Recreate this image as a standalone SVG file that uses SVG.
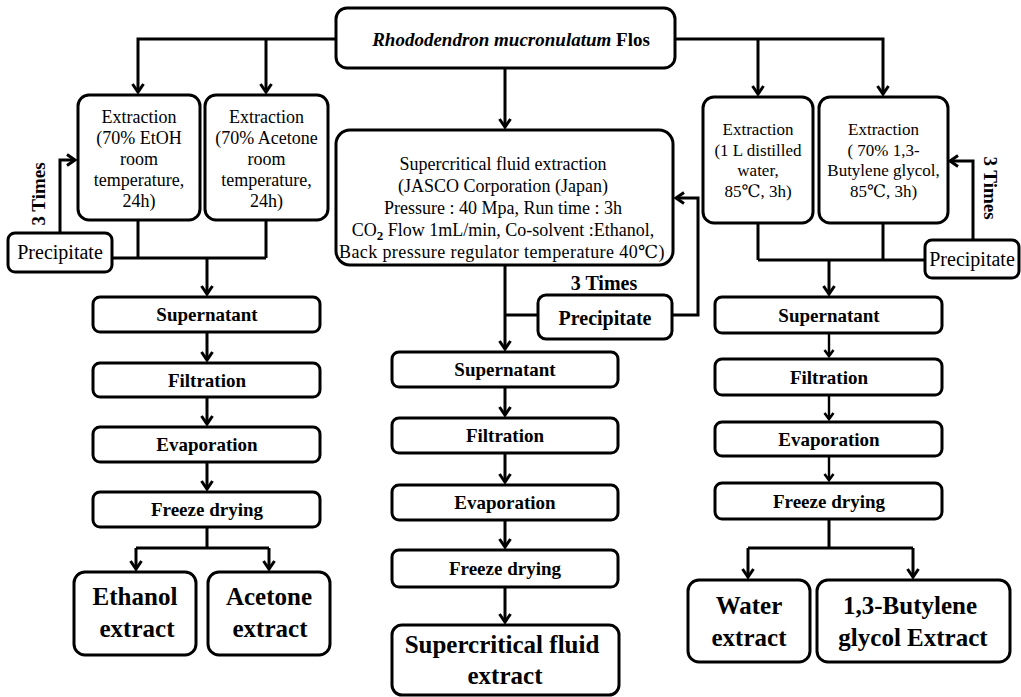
<svg xmlns="http://www.w3.org/2000/svg" width="1021" height="697" viewBox="0 0 1021 697">
<style>
.box{fill:#fff;stroke:#000;stroke-width:3}
.ln{fill:none;stroke:#000;stroke-width:3}
.thin{stroke-width:2.4}
.s{font-family:'Liberation Serif','Times New Roman','DejaVu Serif',serif;fill:#000;text-anchor:middle}
.r18{font-size:18px;font-weight:normal}
.r17{font-size:17px;font-weight:normal}
.r20{font-size:20px;font-weight:normal}
.b19{font-size:19px;font-weight:bold}
.b20{font-size:20px;font-weight:bold}
.b25{font-size:25px;font-weight:bold}
</style>
<defs>
<marker id="ah" markerUnits="userSpaceOnUse" markerWidth="24" markerHeight="24" viewBox="-12 -12 24 24" refX="0" refY="0" orient="auto" overflow="visible">
<path d="M-8,-5.5 L0,0 L-8,5.5" fill="none" stroke="#000" stroke-width="3"/>
</marker>
<marker id="ahs" markerUnits="userSpaceOnUse" markerWidth="24" markerHeight="24" viewBox="-12 -12 24 24" refX="0" refY="0" orient="auto" overflow="visible">
<path d="M-6,-4.5 L0,0 L-6,4.5" fill="none" stroke="#000" stroke-width="2.6"/>
</marker>
</defs>
<rect width="1021" height="697" fill="#fff"/>

<g id="connectors" class="ln">
<path d="M336,39 H138 V92" marker-end="url(#ah)"/>
<path d="M266,39 V92" marker-end="url(#ah)"/>
<path d="M675,39 H883 V94" marker-end="url(#ah)"/>
<path d="M758,39 V94" marker-end="url(#ah)"/>
<path d="M505,68 V127" marker-end="url(#ah)"/>
<path d="M138,220 V258 M266,220 V258 M112,258 H266"/>
<path d="M207,258 V294" marker-end="url(#ah)"/>
<path d="M60,233 V160 H75" marker-end="url(#ah)"/>
<path d="M207,332 V360" marker-end="url(#ah)"/>
<path d="M207,397 V424" marker-end="url(#ah)"/>
<path d="M207,462 V489" marker-end="url(#ah)"/>
<path d="M207,527 V548 M136,548 H269"/>
<path d="M136,548 V569" marker-end="url(#ah)"/>
<path d="M269,548 V569" marker-end="url(#ah)"/>
<path d="M505,265 V349" marker-end="url(#ah)"/>
<path d="M505,315 H538"/>
<path d="M672,315 H698 V198 H676" marker-end="url(#ah)"/>
<path d="M505,387 V415" marker-end="url(#ah)"/>
<path d="M505,453 V482" marker-end="url(#ah)"/>
<path d="M505,520 V547" marker-end="url(#ah)"/>
<path d="M505,587 V622" marker-end="url(#ah)"/>
<path d="M758,223 V260 M883,223 V260 M758,260 H925"/>
<path d="M829,260 V294" marker-end="url(#ah)"/>
<path d="M973,240 V161 H950" marker-end="url(#ah)"/>
<path class="thin" d="M829,333 V356" marker-end="url(#ahs)"/>
<path class="thin" d="M829,395 V419" marker-end="url(#ahs)"/>
<path class="thin" d="M829,456 V480" marker-end="url(#ahs)"/>
<path d="M829,519 V548 M748,548 H913"/>
<path d="M748,548 V577" marker-end="url(#ah)"/>
<path d="M913,548 V577" marker-end="url(#ah)"/>
</g>

<g id="n-source">
<rect class="box" x="336" y="8" width="339" height="60" rx="11"/>
<text class="s b19" x="511" y="46"><tspan font-style="italic">Rhododendron mucronulatum</tspan> Flos</text>
</g>

<g id="n-ext-etoh">
<rect class="box" x="78" y="95" width="122" height="125" rx="11"/>
<text class="s r18" x="139" y="123">Extraction</text>
<text class="s r18" x="139" y="144">(70% EtOH</text>
<text class="s r18" x="139" y="165">room</text>
<text class="s r18" x="139" y="186">temperature,</text>
<text class="s r18" x="139" y="207">24h)</text>
</g>
<g id="n-ext-acetone">
<rect class="box" x="205" y="95" width="123" height="125" rx="11"/>
<text class="s r18" x="266.5" y="123">Extraction</text>
<text class="s r18" x="266.5" y="144">(70% Acetone</text>
<text class="s r18" x="266.5" y="165">room</text>
<text class="s r18" x="266.5" y="186">temperature,</text>
<text class="s r18" x="266.5" y="207">24h)</text>
</g>
<g id="n-prec-left">
<rect class="box" x="8" y="233" width="104" height="39" rx="7"/>
<text class="s r20" x="60" y="259">Precipitate</text>
</g>
<text class="s b19" transform="translate(45,194) rotate(-90)">3 Times</text>

<g id="n-sup-left"><rect class="box" x="93" y="297" width="227" height="35" rx="7"/><text class="s b19" x="207" y="321">Supernatant</text></g>
<g id="n-fil-left"><rect class="box" x="93" y="363" width="227" height="34" rx="7"/><text class="s b19" x="207" y="387">Filtration</text></g>
<g id="n-eva-left"><rect class="box" x="93" y="427" width="227" height="35" rx="7"/><text class="s b19" x="207" y="451">Evaporation</text></g>
<g id="n-frz-left"><rect class="box" x="93" y="492" width="227" height="35" rx="7"/><text class="s b19" x="207" y="516">Freeze drying</text></g>

<g id="n-ethanol-extract">
<rect class="box" x="74" y="572" width="122" height="83" rx="11"/>
<text class="s b25" x="135" y="605">Ethanol</text>
<text class="s b25" x="137" y="637">extract</text>
</g>
<g id="n-acetone-extract">
<rect class="box" x="208" y="572" width="122" height="83" rx="11"/>
<text class="s b25" x="269" y="605">Acetone</text>
<text class="s b25" x="270" y="637">extract</text>
</g>

<g id="n-sfe">
<rect class="box" x="336" y="130" width="337" height="135" rx="14"/>
<text class="s r18" x="503" y="170">Supercritical fluid extraction</text>
<text class="s r18" x="503" y="192">(JASCO Corporation (Japan)</text>
<text class="s r18" x="503" y="214">Pressure : 40 Mpa, Run time : 3h</text>
<text class="s r18" x="503" y="236">CO<tspan dy="4" font-size="13" font-weight="bold">2</tspan><tspan dy="-4"> Flow 1mL/min, Co-solvent :Ethanol,</tspan></text>
<text class="s r18" x="502" y="258" letter-spacing="0.4">Back pressure regulator temperature 40℃)</text>
</g>
<g id="n-prec-center">
<rect class="box" x="538" y="295" width="134" height="44" rx="8"/>
<text class="s b20" x="605" y="325">Precipitate</text>
</g>
<text class="s b20" x="604" y="290">3 Times</text>

<g id="n-sup-center"><rect class="box" x="392" y="352" width="226" height="35" rx="7"/><text class="s b19" x="505" y="376">Supernatant</text></g>
<g id="n-fil-center"><rect class="box" x="392" y="418" width="226" height="35" rx="7"/><text class="s b19" x="505" y="442">Filtration</text></g>
<g id="n-eva-center"><rect class="box" x="392" y="485" width="226" height="35" rx="7"/><text class="s b19" x="505" y="509">Evaporation</text></g>
<g id="n-frz-center"><rect class="box" x="392" y="550" width="226" height="37" rx="7"/><text class="s b19" x="505" y="575">Freeze drying</text></g>
<g id="n-sfe-extract">
<rect class="box" x="392" y="625" width="227" height="70" rx="10"/>
<text class="s b25" x="502" y="653">Supercritical fluid</text>
<text class="s b25" x="505" y="684">extract</text>
</g>

<g id="n-ext-water">
<rect class="box" x="703" y="97" width="110" height="126" rx="11"/>
<text class="s r17" x="758" y="135">Extraction</text>
<text class="s r17" x="758" y="155.5">(1 L distilled</text>
<text class="s r17" x="758" y="176">water,</text>
<text class="s r17" x="758" y="196.5">85℃, 3h)</text>
</g>
<g id="n-ext-bg">
<rect class="box" x="819" y="97" width="129" height="126" rx="11"/>
<text class="s r17" x="883.5" y="135">Extraction</text>
<text class="s r17" x="883.5" y="155.5">( 70% 1,3-</text>
<text class="s r17" x="883.5" y="176">Butylene glycol,</text>
<text class="s r17" x="883.5" y="196.5">85℃, 3h)</text>
</g>
<g id="n-prec-right">
<rect class="box" x="925" y="240" width="94" height="38" rx="7"/>
<text class="s r20" x="972" y="266">Precipitate</text>
</g>
<text class="s b19" transform="translate(984,188) rotate(90)">3 Times</text>

<g id="n-sup-right"><rect class="box" x="715" y="297" width="227" height="36" rx="7"/><text class="s b19" x="829" y="322">Supernatant</text></g>
<g id="n-fil-right"><rect class="box" x="715" y="359" width="227" height="36" rx="7"/><text class="s b19" x="829" y="384">Filtration</text></g>
<g id="n-eva-right"><rect class="box" x="715" y="422" width="227" height="34" rx="7"/><text class="s b19" x="829" y="446">Evaporation</text></g>
<g id="n-frz-right"><rect class="box" x="715" y="483" width="227" height="36" rx="7"/><text class="s b19" x="829" y="508">Freeze drying</text></g>

<g id="n-water-extract">
<rect class="box" x="688" y="580" width="122" height="82" rx="11"/>
<text class="s b25" x="749" y="614">Water</text>
<text class="s b25" x="749" y="646">extract</text>
</g>
<g id="n-bg-extract">
<rect class="box" x="817" y="580" width="193" height="82" rx="11"/>
<text class="s b25" x="910" y="614">1,3-Butylene</text>
<text class="s b25" x="913" y="646">glycol Extract</text>
</g>
</svg>
